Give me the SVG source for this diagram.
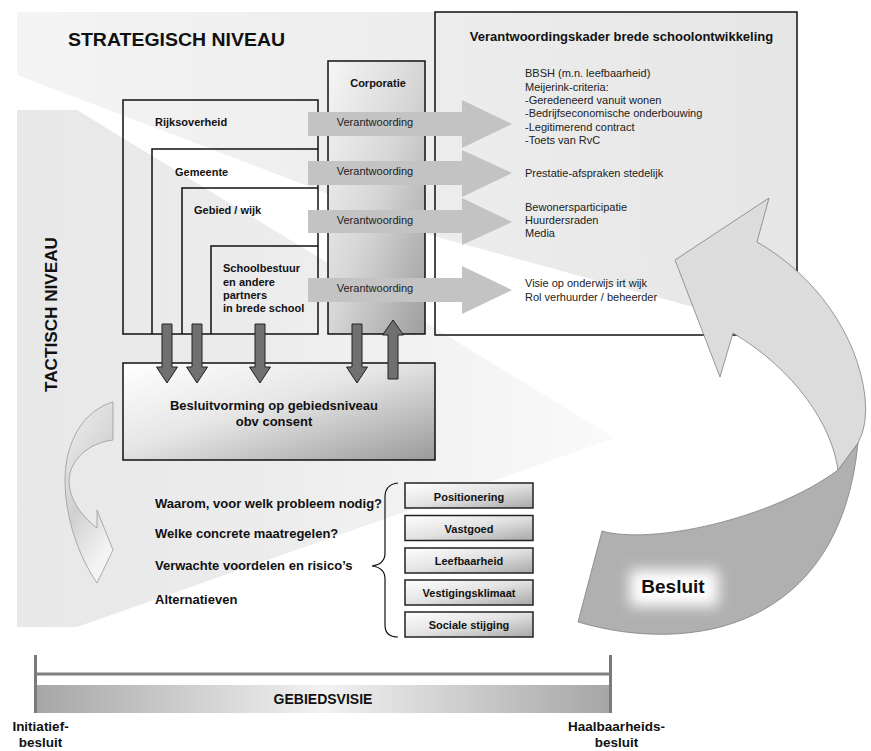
<svg xmlns="http://www.w3.org/2000/svg" width="871" height="751" viewBox="0 0 871 751">
<defs>
<style>
.b{font-family:"Liberation Sans",Arial,sans-serif;font-weight:bold;fill:#111}
.r{font-family:"Liberation Sans",Arial,sans-serif;fill:#222;font-size:11px}
.box{fill:none;stroke:#111;stroke-width:1.5}
.va{fill:#c3c3c3}
.dn{fill:#707070;stroke:#222;stroke-width:1}
.cat{fill:url(#gCat);stroke:#222;stroke-width:1.5}
</style>
<linearGradient id="gStrat" gradientUnits="userSpaceOnUse" x1="17" y1="0" x2="800" y2="0">
<stop offset="0" stop-color="#f4f4f4"/><stop offset="1" stop-color="#e6e6e6"/>
</linearGradient>
<linearGradient id="gTact" gradientUnits="userSpaceOnUse" x1="17" y1="0" x2="640" y2="0">
<stop offset="0" stop-color="#e8e8e8"/><stop offset="0.4" stop-color="#ececec"/><stop offset="1" stop-color="#fbfbfb"/>
</linearGradient>
<linearGradient id="gCorp" x1="0" y1="0" x2="1" y2="1">
<stop offset="0" stop-color="#f6f6f6"/><stop offset="0.5" stop-color="#d6d6d6"/><stop offset="1" stop-color="#9e9e9e"/>
</linearGradient>
<linearGradient id="gBesl" x1="0" y1="0" x2="1" y2="1">
<stop offset="0" stop-color="#ffffff"/><stop offset="0.45" stop-color="#e6e6e6"/><stop offset="1" stop-color="#9a9a9a"/>
</linearGradient>
<linearGradient id="gCat" x1="0" y1="0" x2="1" y2="1">
<stop offset="0" stop-color="#ffffff"/><stop offset="0.5" stop-color="#e2e2e2"/><stop offset="1" stop-color="#a8a8a8"/>
</linearGradient>
<linearGradient id="gBar" x1="0" y1="0" x2="1" y2="0">
<stop offset="0" stop-color="#a6a6a6"/><stop offset="0.5" stop-color="#f2f2f2"/><stop offset="1" stop-color="#a6a6a6"/>
</linearGradient>
<linearGradient id="gCurl" x1="0" y1="0" x2="0.4" y2="1">
<stop offset="0" stop-color="#f0f0f0"/><stop offset="0.6" stop-color="#d0d0d0"/><stop offset="1" stop-color="#f4f4f4"/>
</linearGradient>
<filter id="blur" x="-50%" y="-50%" width="200%" height="200%"><feGaussianBlur stdDeviation="7"/></filter>
</defs>
<rect width="871" height="751" fill="#ffffff"/>
<g id="planes">
<polygon points="17,12 797,12 797,335 697,308 430,235 318,190 17,75" fill="url(#gStrat)"/>
<polygon points="17,110 77,110 615,438 77,627 17,627" fill="url(#gTact)"/>
<text class="b" x="68" y="45.5" font-size="17.5" textLength="217" lengthAdjust="spacingAndGlyphs">STRATEGISCH NIVEAU</text>
<text class="b" transform="translate(57,314.5) rotate(-90)" text-anchor="middle" font-size="17" textLength="155" lengthAdjust="spacingAndGlyphs">TACTISCH NIVEAU</text>
</g>
<g id="kader">
<rect class="box" x="435" y="12" width="362" height="323"/>
<text class="b" x="621.5" y="40.7" font-size="13" text-anchor="middle">Verantwoordingskader brede schoolontwikkeling</text>
<text class="r" x="525" y="77.3">BBSH (m.n. leefbaarheid)</text>
<text class="r" x="525" y="90.7">Meijerink-criteria:</text>
<text class="r" x="525" y="104">-Geredeneerd vanuit wonen</text>
<text class="r" x="525" y="117.3">-Bedrijfseconomische onderbouwing</text>
<text class="r" x="525" y="130.7">-Legitimerend contract</text>
<text class="r" x="525" y="144">-Toets van RvC</text>
<text class="r" x="525" y="177.3">Prestatie-afspraken stedelijk</text>
<text class="r" x="525" y="210.7">Bewonersparticipatie</text>
<text class="r" x="525" y="224">Huurdersraden</text>
<text class="r" x="525" y="237.3">Media</text>
<text class="r" x="525" y="287.3">Visie op onderwijs irt wijk</text>
<text class="r" x="525" y="300.7">Rol verhuurder / beheerder</text>
</g>
<g id="corporatie">
<rect x="328" y="61" width="97" height="273" fill="url(#gCorp)" stroke="#111" stroke-width="1.5"/>
<text class="b" x="378" y="87.3" font-size="11" text-anchor="middle">Corporatie</text>
</g>
<g id="rijksoverheid">
<rect class="box" x="123" y="100" width="195" height="234"/>
<text class="b" x="155" y="125.7" font-size="11">Rijksoverheid</text>
</g>
<g id="gemeente">
<polyline class="box" points="152,334 152,149 318,149"/>
<text class="b" x="175" y="175.7" font-size="11">Gemeente</text>
</g>
<g id="gebied">
<polyline class="box" points="182,334 182,188 318,188"/>
<text class="b" x="194" y="214" font-size="11">Gebied / wijk</text>
</g>
<g id="schoolbestuur">
<polyline class="box" points="211,334 211,246 318,246"/>
<text class="b" font-size="11"><tspan x="223" y="272.3">Schoolbestuur</tspan><tspan x="223" y="285.7">en andere</tspan><tspan x="223" y="299">partners</tspan><tspan x="223" y="312.3">in brede school</tspan></text>
</g>
<g id="besluitvorming">
<rect x="123" y="363" width="312" height="97" fill="url(#gBesl)" stroke="#111" stroke-width="1.5"/>
<text class="b" x="274" y="410" font-size="13" text-anchor="middle">Besluitvorming op gebiedsniveau</text>
<text class="b" x="274" y="425.7" font-size="13" text-anchor="middle">obv consent</text>
</g>
<g id="connectors">
<polygon class="va" points="308,112 462,112 462,100 512,124 462,148 462,136 308,136"/>
<polygon class="va" points="308,161 462,161 462,150 512,173 462,197 462,185 308,185"/>
<polygon class="va" points="308,210 462,210 462,198 512,222 462,245 462,233 308,233"/>
<polygon class="va" points="308,278 462,278 462,266 512,290 462,314 462,302 308,302"/>
<g class="r" text-anchor="middle" fill="#333">
<text x="375" y="126">Verantwoording</text>
<text x="375" y="174.5">Verantwoording</text>
<text x="375" y="223.5">Verantwoording</text>
<text x="375" y="291.5">Verantwoording</text>
</g>
<polygon class="dn" points="162,324 172,324 172,367 177.5,367 167,383 156.5,367 162,367"/>
<polygon class="dn" points="192,324 202,324 202,367 207.5,367 197,383 186.5,367 192,367"/>
<polygon class="dn" points="255,324 265,324 265,367 270.5,367 260,383 249.5,367 255,367"/>
<polygon class="dn" points="352,324 362,324 362,367 367.5,367 357,383 346.5,367 352,367"/>
<polygon class="dn" points="388,379 398,379 398,335 403.5,335 393,320 382.5,335 388,335"/>
<path d="M113,402 C85,410 65,440 65,480 C65,520 80,558 97,583 L113,550 L97,510 L97,528 C80,515 69,498 69,480 C70,460 88,443 113,440 Z" fill="url(#gCurl)" stroke="#999" stroke-width="0.8"/>
<path d="M602,531 C650,545 770,520 838,470 L858,443 C840,630 690,655 578,622 Z" fill="#b0b0b0" stroke="#808080" stroke-width="0.8"/>
<path d="M769,198 L757,242 C815,275 858,335 865,397 Q868,425 858,443 L838,470 C832,425 795,370 733,333 L720,377 L675,260 Z" fill="#dcdcdc" stroke="#808080" stroke-width="0.8"/>
</g>
<g id="besluit">
<rect x="630" y="570" width="88" height="36" fill="#ffffff" filter="url(#blur)"/>
<text class="b" x="673" y="593" font-size="19" text-anchor="middle">Besluit</text>
</g>
<g id="vragen">
<text class="b" x="155" y="508" font-size="13">Waarom, voor welk probleem nodig?</text>
<text class="b" x="155" y="538" font-size="13">Welke concrete maatregelen?</text>
<text class="b" x="155" y="570" font-size="13">Verwachte voordelen en risico’s</text>
<text class="b" x="155" y="603.5" font-size="13">Alternatieven</text>
<path d="M398,483 C389,484 385,489 385,497 L385,553 C385,561 380,565 372,566 C380,567 385,571 385,579 L385,625 C385,633 389,637 398,637" fill="none" stroke="#111" stroke-width="1.2"/>
</g>
<g id="positionering"><rect class="cat" x="405" y="483" width="128" height="25"/><text class="b" x="469" y="501" font-size="11" text-anchor="middle">Positionering</text></g>
<g id="vastgoed"><rect class="cat" x="405" y="515.5" width="128" height="25"/><text class="b" x="469" y="533" font-size="11" text-anchor="middle">Vastgoed</text></g>
<g id="leefbaarheid"><rect class="cat" x="405" y="548" width="128" height="25"/><text class="b" x="469" y="565" font-size="11" text-anchor="middle">Leefbaarheid</text></g>
<g id="vestigingsklimaat"><rect class="cat" x="405" y="580" width="128" height="25"/><text class="b" x="469" y="597" font-size="11" text-anchor="middle">Vestigingsklimaat</text></g>
<g id="sociale"><rect class="cat" x="405" y="612" width="128" height="25"/><text class="b" x="469" y="629" font-size="11" text-anchor="middle">Sociale stijging</text></g>
<g id="gebiedsvisie">
<rect x="36" y="685" width="574" height="28" fill="url(#gBar)"/>
<line x1="35" y1="674" x2="611" y2="674" stroke="#808080" stroke-width="3"/>
<line x1="35.5" y1="655" x2="35.5" y2="713" stroke="#7a7a7a" stroke-width="3"/>
<line x1="610.5" y1="655" x2="610.5" y2="713" stroke="#7a7a7a" stroke-width="3"/>
<text class="b" x="323" y="704" font-size="14" text-anchor="middle">GEBIEDSVISIE</text>
<text class="b" x="40.5" y="731" font-size="13.5" text-anchor="middle">Initiatief-</text>
<text class="b" x="40.5" y="747" font-size="13.5" text-anchor="middle">besluit</text>
<text class="b" x="616.5" y="731" font-size="13.5" text-anchor="middle">Haalbaarheids-</text>
<text class="b" x="616.5" y="747" font-size="13.5" text-anchor="middle">besluit</text>
</g>
</svg>
